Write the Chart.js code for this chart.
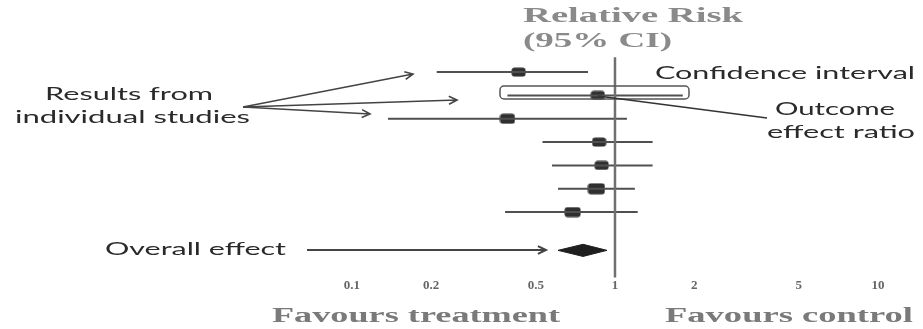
<!DOCTYPE html>
<html>
<head>
<meta charset="utf-8">
<script src="https://cdn.jsdelivr.net/npm/chart.js@4.4.1/dist/chart.umd.min.js"></script>
<style>
  html, body { margin: 0; padding: 0; background: #fff; }
  #wrap { width: 923px; height: 329px; position: relative; }
</style>
</head>
<body>
<div id="wrap"><canvas id="forest"></canvas></div>
<script>
// Forest plot data (relative risk, 95% CI)
const studyRows = [1, 2, 3, 4, 5, 6, 7];
const studyEstimate = [0.43, 0.86, 0.39, 0.87, 0.89, 0.85, 0.69];
const studyLower = [0.21, 0.39, 0.137, 0.53, 0.576, 0.607, 0.382];
const studyUpper = [0.79, 1.81, 1.11, 1.39, 1.39, 1.19, 1.22];
const studyWeight = [1.0, 1.0, 1.05, 1.0, 1.0, 1.2, 1.1];

const overallRow = 8.64;
const overallEstimate = 0.756;
const overallLower = 0.607;
const overallUpper = 0.932;

const tickValues = [0.1, 0.2, 0.5, 1, 2, 5, 10];

// rounded box used as point marker
function makeBox(wt) {
  const w = Math.round(15 * wt), h = Math.round(10 * wt);
  const c = document.createElement("canvas");
  c.width = w;
  c.height = h;
  const g = c.getContext("2d");
  g.fillStyle = "#2f2f2f";
  g.beginPath();
  g.roundRect(0.5, 0.5, w - 1, h - 1, 3);
  g.fill();
  return c;
}

// CI segments separated by gaps
const ciData = [];
studyRows.forEach((r, i) => {
  ciData.push({ x: studyLower[i], y: r });
  ciData.push({ x: studyUpper[i], y: r });
  ciData.push({ x: studyUpper[i], y: null });
});

const diamondH = 0.26;
const diamondData = [
  { x: overallLower, y: overallRow },
  { x: overallEstimate, y: overallRow - diamondH },
  { x: overallUpper, y: overallRow },
  { x: overallEstimate, y: overallRow + diamondH },
  { x: overallLower, y: overallRow },
];

function fitText(ctx, txt, x, y, w, font, color) {
  ctx.save();
  ctx.font = font;
  const m = ctx.measureText(txt).width;
  ctx.translate(x, y);
  ctx.scale(w / m, 1);
  ctx.fillStyle = color;
  ctx.textBaseline = "middle";
  ctx.textAlign = "left";
  ctx.fillText(txt, 0, 0);
  ctx.restore();
}

function arrow(ctx, x1, y1, x2, y2, lw) {
  const a = Math.atan2(y2 - y1, x2 - x1);
  const s = 9;
  ctx.save();
  ctx.strokeStyle = "#444";
  ctx.lineWidth = lw;
  ctx.beginPath();
  ctx.moveTo(x1, y1);
  ctx.lineTo(x2, y2);
  ctx.moveTo(x2 - s * Math.cos(a - 0.45), y2 - s * Math.sin(a - 0.45));
  ctx.lineTo(x2, y2);
  ctx.lineTo(x2 - s * Math.cos(a + 0.45), y2 - s * Math.sin(a + 0.45));
  ctx.stroke();
  ctx.restore();
}

const sansFont = (px) => `${px}px Lato, "Open Sans", sans-serif`;
const serifFont = (px) => `bold ${px}px "Liberation Serif", "DejaVu Serif", serif`;

const labelsPlugin = {
  id: "labels",
  afterDraw(chart) {
    const ctx = chart.ctx;
    fitText(ctx, "Relative Risk", 523, 17, 220, serifFont(20), "#8a8a8a");
    fitText(ctx, "(95% CI)", 523, 42, 149, serifFont(20), "#8a8a8a");
    fitText(ctx, "Favours treatment", 272, 317, 288, serifFont(20), "#7a7a7a");
    fitText(ctx, "Favours control", 665, 317, 248, serifFont(20), "#7a7a7a");

    fitText(ctx, "Confidence interval", 655, 73, 260, sansFont(18), "#2a2a2a");
    fitText(ctx, "Outcome", 775, 109, 120, sansFont(18), "#2a2a2a");
    fitText(ctx, "effect ratio", 767, 132, 148, sansFont(18), "#2a2a2a");
    fitText(ctx, "Results from", 45, 95, 168, sansFont(17), "#2a2a2a");
    fitText(ctx, "individual studies", 15, 118, 235, sansFont(17), "#2a2a2a");
    fitText(ctx, "Overall effect", 105, 250, 181, sansFont(17), "#2a2a2a");

    arrow(ctx, 243, 107, 413, 74, 1.6);
    arrow(ctx, 243, 107, 457, 100, 1.6);
    arrow(ctx, 243, 107, 370, 114, 1.6);
    arrow(ctx, 307, 250, 546, 250, 2);

    // confidence interval callout box
    ctx.save();
    ctx.strokeStyle = "#555";
    ctx.lineWidth = 1.5;
    ctx.beginPath();
    ctx.roundRect(500, 86, 189, 13, 4);
    ctx.stroke();
    // outcome pointer
    ctx.strokeStyle = "#333";
    ctx.beginPath();
    ctx.moveTo(598, 96);
    ctx.lineTo(767, 118);
    ctx.stroke();
    ctx.restore();
  },
};

const ctx = document.getElementById("forest").getContext("2d");
new Chart(ctx, {
  type: "scatter",
  data: {
    datasets: [
      {
        type: "line",
        data: [{ x: 1, y: 0.36 }, { x: 1, y: 9.8 }],
        borderColor: "#707070",
        borderWidth: 2.5,
        pointRadius: 0,
        clip: false,
      },
      {
        type: "line",
        data: ciData,
        borderColor: "#505050",
        borderWidth: 2,
        pointRadius: 0,
        spanGaps: false,
      },
      {
        type: "line",
        data: diamondData,
        borderColor: "#1f1f1f",
        backgroundColor: "#1f1f1f",
        borderWidth: 1,
        fill: "shape",
        pointRadius: 0,
        tension: 0,
      },
      {
        data: studyRows.map((r, i) => ({ x: studyEstimate[i], y: r })),
        pointStyle: studyWeight.map(makeBox),
      },
    ],
  },
  options: {
    responsive: true,
    maintainAspectRatio: false,
    animation: false,
    layout: { autoPadding: false, padding: { left: 0, right: 0, top: 0, bottom: 33 } },
    plugins: { legend: { display: false }, tooltip: { enabled: false } },
    scales: {
      x: {
        type: "logarithmic",
        min: 0.004588,
        max: 14.83,
        border: { display: false },
        grid: { display: false, drawTicks: false },
        afterBuildTicks: (axis) => {
          axis.ticks = tickValues.map((v) => ({ value: v }));
        },
        ticks: {
          padding: 3,
          autoSkip: false,
          maxRotation: 0,
          color: "#666",
          font: { family: "'Liberation Serif', serif", size: 13, weight: "bold" },
          callback: (v) => String(v),
        },
      },
      y: {
        type: "linear",
        reverse: true,
        display: false,
        min: -2.09,
        max: 9.67,
      },
    },
  },
  plugins: [labelsPlugin],
});
</script>
</body>
</html>
